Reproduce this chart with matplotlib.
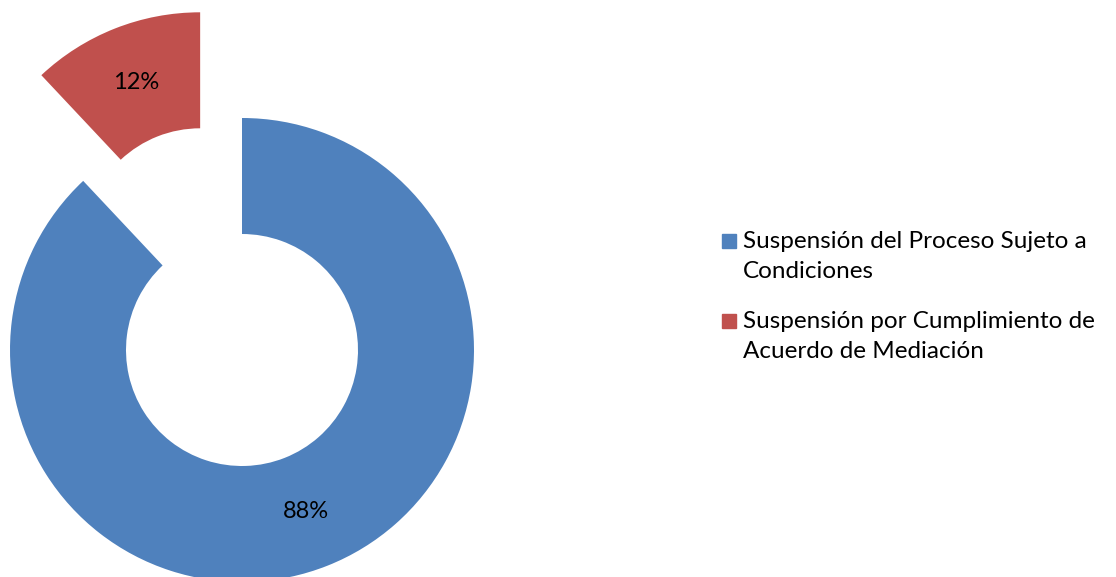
import matplotlib.pyplot as plt
from matplotlib.patches import Rectangle

categorias = ["Suspensión del Proceso Sujeto a\nCondiciones",
              "Suspensión por Cumplimiento de\nAcuerdo de Mediación"]
valores = [88, 12]
colores = ["#4F81BD", "#C0504D"]

plt.rcParams["font.family"] = ["Lato", "DejaVu Sans"]

W, H = 1116, 577
fig = plt.figure(figsize=(W / 100, H / 100), dpi=100)
ax = fig.add_axes([0, 0, 1, 1])

# centro del anillo en pixeles y radio exterior
cx, cy, r = 242, 350, 232

ax.pie(valores, colors=colores, startangle=90, counterclock=False,
       explode=[0, 0.49], radius=1,
       wedgeprops=dict(width=0.5, linewidth=0),
       autopct="%1.0f%%", pctdistance=0.75,
       textprops=dict(fontsize=17, color="black"))

ax.set_xlim(-cx / r, (W - cx) / r)
ax.set_ylim(-(H - cy) / r, cy / r)
ax.set_aspect("auto")
ax.axis("off")

# leyenda a la derecha
y_tops = [231, 311]
for i, (lab, col) in enumerate(zip(categorias, colores)):
    y = y_tops[i]
    fig.patches.append(Rectangle((722 / W, 1 - (y + 17) / H), 14 / W, 14 / H,
                                 transform=fig.transFigure, color=col))
    fig.text(743 / W, 1 - y / H, lab, fontsize=17.5, va="top", ha="left",
             linespacing=1.5)

fig.savefig("out.png", dpi=100)
